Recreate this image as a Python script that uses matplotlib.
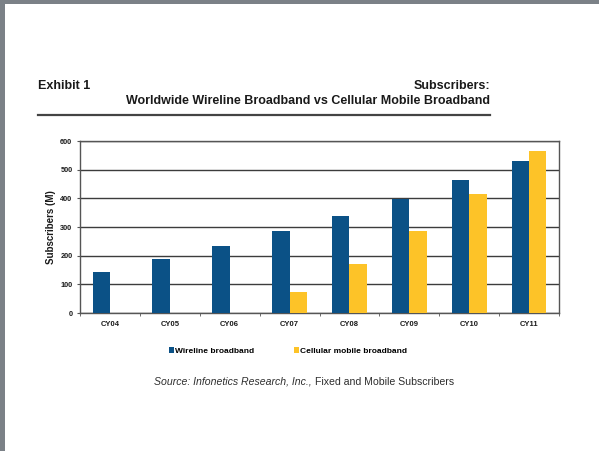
import matplotlib
matplotlib.use("Agg")
import matplotlib.pyplot as plt
import numpy as np
from matplotlib.patches import Rectangle, Patch
from matplotlib.lines import Line2D

plt.rcParams.update({"font.family": ["Liberation Sans", "DejaVu Sans"]})

INK = "#1a1a1a"
BLUE = "#0b5186"
YELLOW = "#fdc328"
GRID = "#3c3c3c"
EDGE = "#7b8187"

years = ["CY04", "CY05", "CY06", "CY07", "CY08", "CY09", "CY10", "CY11"]
wireline = [142, 187, 234, 286, 339, 398, 464, 529]
cellular = [0, 0, 0, 72, 170, 286, 415, 566]
yticks = [0, 100, 200, 300, 400, 500, 600]

W, H = 599, 451
fig = plt.figure(figsize=(W / 100, H / 100), dpi=100)
fig.patch.set_facecolor("white")

# grey scan edges (left and top)
fig.add_artist(Rectangle((0, 0), 5 / W, 1, transform=fig.transFigure,
                         facecolor=EDGE, edgecolor="none"))
fig.add_artist(Rectangle((0, 1 - 4 / H), 1, 4 / H, transform=fig.transFigure,
                         facecolor=EDGE, edgecolor="none"))

# ---- header ----------------------------------------------------------------
fig.text(38 / W, 1 - 86 / H, "Exhibit 1", fontsize=9, fontweight="bold",
         color=INK, ha="left", va="center")
fig.text(490 / W, 1 - 86 / H, "Subscribers:", fontsize=9, fontweight="bold",
         color=INK, ha="right", va="center")
fig.text(490 / W, 1 - 101 / H,
         "Worldwide Wireline Broadband vs Cellular Mobile Broadband",
         fontsize=9, fontweight="bold", color=INK, ha="right", va="center")
fig.add_artist(Line2D([38 / W, 490 / W], [1 - 115 / H, 1 - 115 / H],
                      transform=fig.transFigure, color="#444444", lw=1.6))

# ---- chart -----------------------------------------------------------------
ax = fig.add_axes([80 / W, 1 - 313 / H, (559 - 80) / W, (313 - 141) / H])
x = np.arange(len(years))
bw = 0.29
ax.bar(x - bw / 2, wireline, bw, color=BLUE, zorder=3)
ax.bar(x + bw / 2, cellular, bw, color=YELLOW, zorder=3)

ax.set_xlim(-0.5, len(years) - 0.5)
ax.set_ylim(0, 600)
ax.set_yticks(yticks)
ax.yaxis.grid(True, color=GRID, lw=1.0, zorder=0)
ax.set_axisbelow(True)
ax.set_xticks(x)
ax.set_xticklabels(years, fontsize=5.5, fontweight="bold", color=INK)
ax.set_xticks(np.arange(len(years) + 1) - 0.5, minor=True)
ax.tick_params(axis="x", which="major", length=0, pad=6)
ax.tick_params(axis="x", which="minor", length=2.5, color="#555555")
ax.tick_params(axis="y", length=2.5, color="#555555", pad=3)
for lab in ax.get_yticklabels():
    lab.set_fontsize(5.3)
    lab.set_fontweight("bold")
    lab.set_color(INK)
ax.set_ylabel("Subscribers (M)", fontsize=7, fontweight="bold", color=INK,
              labelpad=3)
for s in ax.spines.values():
    s.set_color("#555555")
    s.set_linewidth(1.0)

# ---- legend ----------------------------------------------------------------
handles = [Patch(facecolor=BLUE, label="Wireline broadband"),
           Patch(facecolor=YELLOW, label="Cellular mobile broadband")]
fig.legend(handles=handles, loc="center", bbox_to_anchor=(288 / W, 1 - 351 / H),
           ncol=2, frameon=False, handlelength=0.6, handleheight=0.6,
           handletextpad=0.1, columnspacing=4.9,
           prop={"size": 6, "weight": "bold"})

# ---- source ----------------------------------------------------------------
fig.text(312 / W, 1 - 382 / H, "Source: Infonetics Research, Inc.,",
         fontsize=7.6, fontstyle="italic", color="#2e2e2e", ha="right",
         va="center")
fig.text(315 / W, 1 - 382 / H, "Fixed and Mobile Subscribers",
         fontsize=7.6, color="#2e2e2e", ha="left", va="center")

fig.savefig("out.png", dpi=100, facecolor="white")
